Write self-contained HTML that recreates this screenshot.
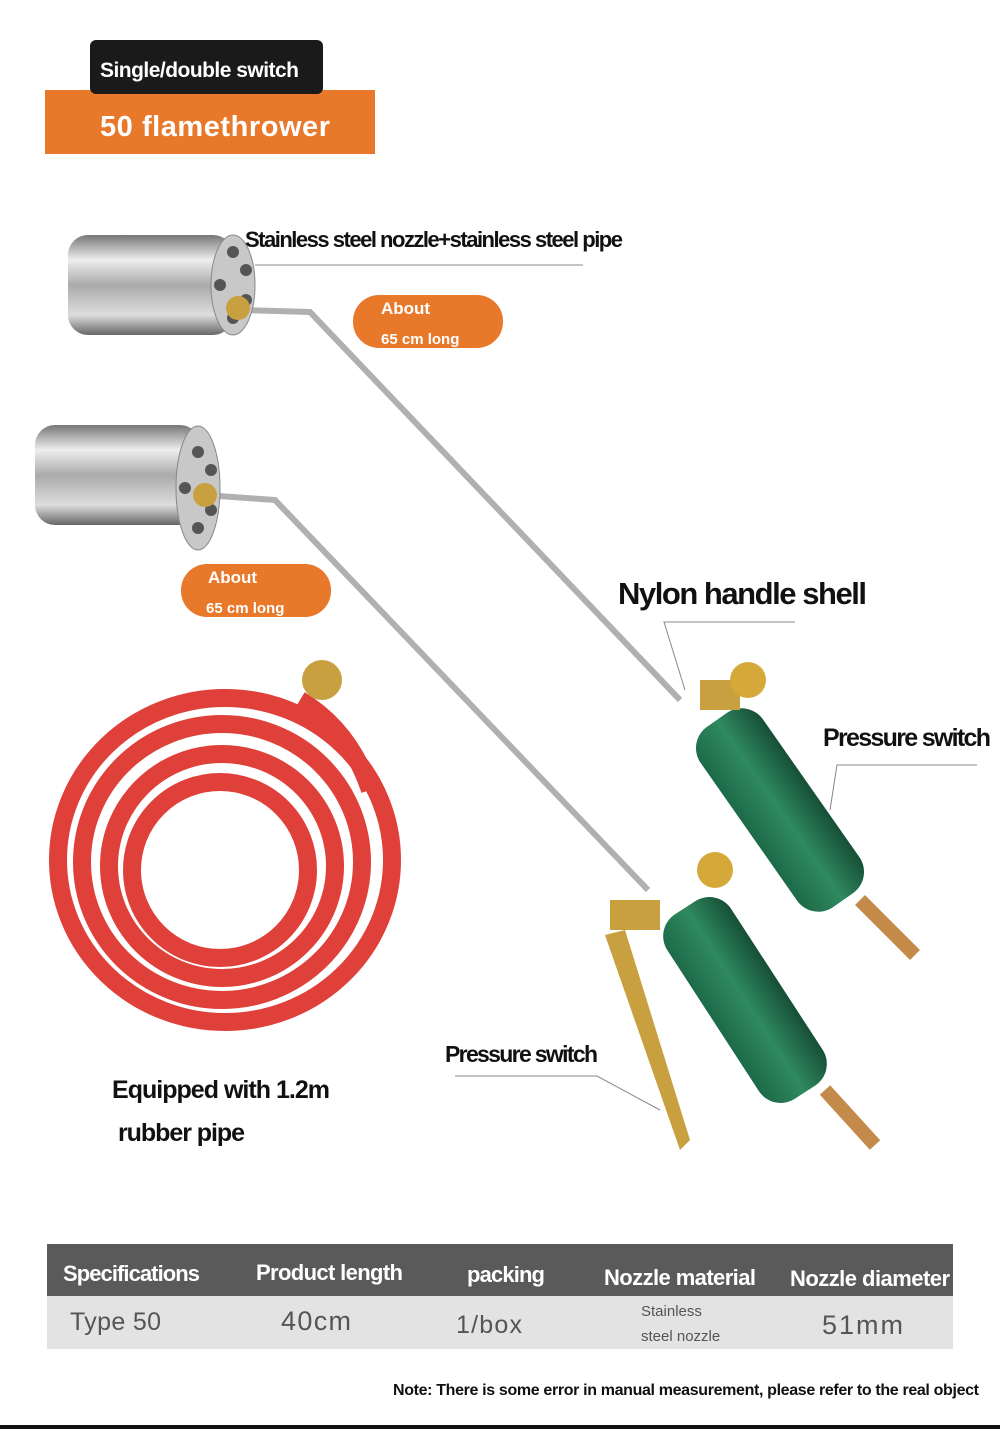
<!DOCTYPE html>
<html><head><meta charset="utf-8"><style>
html,body{margin:0;padding:0;background:#fff}
svg{display:block}
text{font-family:"Liberation Sans Narrow","Liberation Sans",sans-serif;font-weight:bold}
</style></head><body>
<svg width="1000" height="1437" viewBox="0 0 1000 1437" xmlns="http://www.w3.org/2000/svg">
<defs>
<linearGradient id="steel" x1="0" y1="0" x2="0" y2="1">
<stop offset="0" stop-color="#777"/><stop offset="0.25" stop-color="#eee"/><stop offset="0.5" stop-color="#aaa"/><stop offset="0.8" stop-color="#ddd"/><stop offset="1" stop-color="#666"/></linearGradient>
<linearGradient id="grn" x1="0" y1="0" x2="1" y2="0"><stop offset="0" stop-color="#1d6a48"/><stop offset="0.5" stop-color="#2f8a60"/><stop offset="1" stop-color="#164f36"/></linearGradient>
</defs>
<rect x="45" y="90" width="330" height="64" fill="#e8792b"/>
<rect x="90" y="40" width="233" height="54" rx="6" fill="#1a1a1a"/>
<text x="100" y="77" font-size="21" fill="#fff" textLength="199">Single/double switch</text>
<text x="100" y="136" font-size="29" fill="#fff" textLength="230">50 flamethrower</text>

<polyline points="240,310 310,312 680,700" fill="none" stroke="#b0b0b0" stroke-width="6"/>
<polyline points="205,495 275,500 648,890" fill="none" stroke="#b0b0b0" stroke-width="6"/>
<rect x="68" y="235" width="165" height="100" rx="20" fill="url(#steel)"/>
<ellipse cx="233" cy="285" rx="22" ry="50" fill="#c8c8c8" stroke="#888"/>
<g fill="#555"><circle cx="233" cy="252" r="6"/><circle cx="246" cy="270" r="6"/><circle cx="246" cy="300" r="6"/><circle cx="233" cy="318" r="6"/><circle cx="220" cy="285" r="6"/></g>
<circle cx="238" cy="308" r="12" fill="#c9a040"/>
<rect x="35" y="425" width="165" height="100" rx="20" fill="url(#steel)"/>
<ellipse cx="198" cy="488" rx="22" ry="62" fill="#c8c8c8" stroke="#888"/>
<g fill="#555"><circle cx="198" cy="452" r="6"/><circle cx="211" cy="470" r="6"/><circle cx="211" cy="510" r="6"/><circle cx="198" cy="528" r="6"/><circle cx="185" cy="488" r="6"/></g>
<circle cx="205" cy="495" r="12" fill="#c9a040"/>

<g transform="translate(780,810) rotate(-35)"><rect x="-38" y="-110" width="76" height="220" rx="26" fill="url(#grn)"/></g>
<rect x="700" y="680" width="40" height="30" fill="#c9a040"/>
<circle cx="748" cy="680" r="18" fill="#d4a93a"/>
<line x1="860" y1="900" x2="915" y2="955" stroke="#c48a4a" stroke-width="14"/>
<g transform="translate(745,1000) rotate(-33)"><rect x="-38" y="-110" width="76" height="220" rx="26" fill="url(#grn)"/></g>
<circle cx="715" cy="870" r="18" fill="#d4a93a"/>
<rect x="610" y="900" width="50" height="30" fill="#c9a040"/>
<polygon points="605,935 625,930 690,1140 680,1150" fill="#c9a040"/>
<line x1="825" y1="1090" x2="875" y2="1145" stroke="#c48a4a" stroke-width="14"/>

<g fill="none" stroke="#e0403a" stroke-width="18">
<ellipse cx="225" cy="860" rx="167" ry="162"/>
<ellipse cx="222" cy="862" rx="140" ry="138"/>
<ellipse cx="222" cy="866" rx="113" ry="112"/>
<ellipse cx="220" cy="870" rx="88" ry="88"/>
<path d="M300 700 Q350 730 370 790"/>
</g>
<circle cx="322" cy="680" r="20" fill="#c9a040"/>

<text x="245" y="247" font-size="22" fill="#111" textLength="378">Stainless steel nozzle+stainless steel pipe</text>
<line x1="255" y1="265" x2="583" y2="265" stroke="#888"/>
<rect x="353" y="295" width="150" height="53" rx="26" fill="#e8792b"/>
<text x="381" y="314" font-size="17" fill="#fff">About</text>
<text x="381" y="344" font-size="15" fill="#fff">65 cm long</text>
<rect x="181" y="564" width="150" height="53" rx="26" fill="#e8792b"/>
<text x="208" y="583" font-size="17" fill="#fff">About</text>
<text x="206" y="613" font-size="15" fill="#fff">65 cm long</text>
<text x="618" y="604" font-size="31" fill="#111" textLength="249">Nylon handle shell</text>
<polyline points="795,622 664,622 685,690" fill="none" stroke="#888"/>
<text x="823" y="746" font-size="25" fill="#111" textLength="168">Pressure switch</text>
<polyline points="977,765 837,765 830,810" fill="none" stroke="#888"/>
<text x="445" y="1062" font-size="23" fill="#111" textLength="153">Pressure switch</text>
<polyline points="455,1076 597,1076 660,1110" fill="none" stroke="#888"/>
<text x="112" y="1098" font-size="25" fill="#111" textLength="218">Equipped with 1.2m</text>
<text x="118" y="1141" font-size="25" fill="#111" textLength="127">rubber pipe</text>

<rect x="47" y="1244" width="906" height="52" fill="#5a5a5a"/>
<rect x="47" y="1296" width="906" height="53" fill="#e3e3e3"/>
<g font-size="22" fill="#fff">
<text x="63" y="1281" textLength="137">Specifications</text>
<text x="256" y="1280" textLength="147">Product length</text>
<text x="467" y="1282" textLength="78">packing</text>
<text x="604" y="1285" textLength="152">Nozzle material</text>
<text x="790" y="1286" textLength="160">Nozzle diameter</text>
</g>
<g fill="#555">
<text x="70" y="1330" font-size="25" style="font-weight:normal" textLength="91">Type 50</text>
<text x="281" y="1330" font-size="27" style="font-weight:normal" textLength="70">40cm</text>
<text x="456" y="1333" font-size="25" style="font-weight:normal" textLength="66">1/box</text>
<text x="641" y="1316" font-size="15" style="font-weight:normal">Stainless</text>
<text x="641" y="1341" font-size="15" style="font-weight:normal">steel nozzle</text>
<text x="822" y="1334" font-size="27" style="font-weight:normal" textLength="81">51mm</text>
</g>
<text x="393" y="1395" font-size="16" fill="#111" textLength="586">Note: There is some error in manual measurement, please refer to the real object</text>
<rect x="0" y="1425" width="1000" height="4" fill="#111"/>
</svg>
</body></html>
